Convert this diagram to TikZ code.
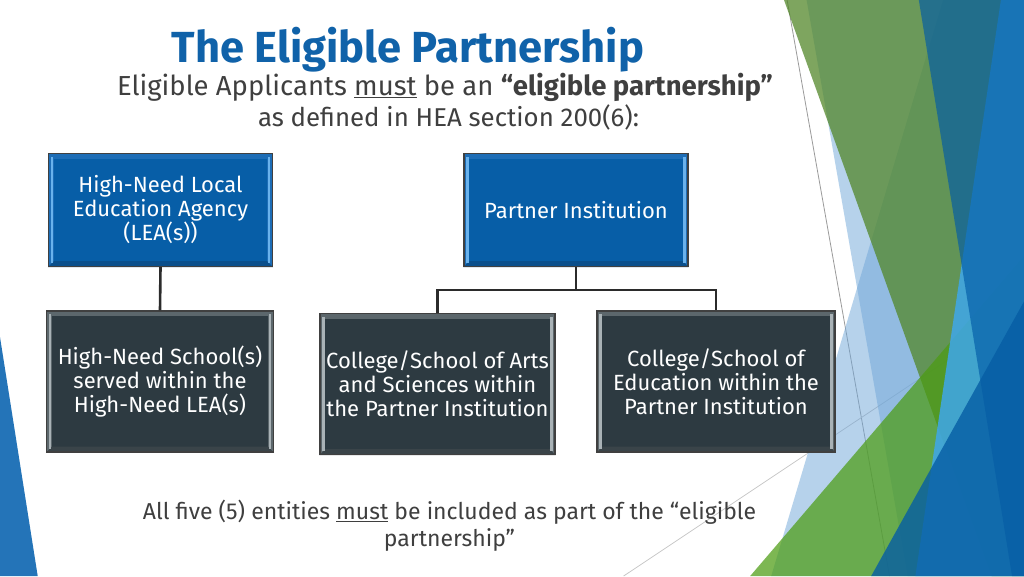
\documentclass[tikz,border=0pt]{standalone}
\usepackage{fontspec}
\setmainfont{Fira Sans}
\usetikzlibrary{calc}
\definecolor{titleblue}{HTML}{1062A9}
\definecolor{bodygray}{HTML}{3F3F3F}
\definecolor{boxedge}{HTML}{404040}
\definecolor{bluebase}{HTML}{075EA7}
\definecolor{blueframe}{HTML}{1D6DB6}
\definecolor{bluelight}{HTML}{6AB2EC}
\definecolor{bluedark}{HTML}{0A4F8C}
\definecolor{slatebase}{HTML}{2D3A41}
\definecolor{slateframe}{HTML}{5C676C}
\definecolor{slatelight}{HTML}{A9B2B6}
\definecolor{slatedark}{HTML}{3A4449}
\definecolor{connline}{HTML}{2B2B2B}
\definecolor{paleblue}{HTML}{6FA6D8}
\definecolor{leafgreen}{HTML}{53872A}
\definecolor{brightgreen}{HTML}{4C9C12}
\definecolor{skyblue}{HTML}{3FA7EB}
\definecolor{deepblue}{HTML}{015BA7}
\definecolor{oceanblue}{HTML}{065DA4}
\definecolor{sideblue}{HTML}{2474B8}
\definecolor{thinline}{HTML}{9A9A9A}
\definecolor{faintline}{HTML}{C4C4C4}
\pgfdeclarelayer{deco}
\pgfdeclarelayer{bevel}
\pgfsetlayers{deco,bevel,main}
\tikzset{
  boxbase/.style={draw=boxedge, line width=1.2pt, align=center, text=white,
    font=\fontsize{22}{24}\selectfont, inner sep=0pt},
  topbox/.style={boxbase, minimum width=224pt, minimum height=113pt},
  lowbox/.style={boxbase, minimum height=141pt},
  conn/.style={draw=connline, line width=2.6pt},
  hairline/.style={draw=thinline, line width=0.8pt},
  faintrule/.style={draw=faintline, line width=0.7pt},
}
\newcommand{\bevelbox}[5]{%
  \fill[#2] (#1.north west) rectangle (#1.south east);
  \fill[#3] ([shift={(6,6)}]#1.north west) rectangle ([shift={(-6,-6)}]#1.south east);
  \fill[#5] ([shift={(0,0)}]#1.south west) -- ([shift={(6,-6)}]#1.south west)
     -- ([shift={(-6,-6)}]#1.south east) -- (#1.south east) -- cycle;
  \fill[#4] ([shift={(3,4)}]#1.north west) rectangle ([shift={(5.5,-4)}]#1.south west);
  \fill[#4] ([shift={(-5.5,4)}]#1.north east) rectangle ([shift={(-3,-4)}]#1.south east);
}
\begin{document}
\begin{tikzpicture}[x=1pt,y=-1pt]
\useasboundingbox (0,0) rectangle (1024,576);
\begin{pgfonlayer}{deco}
\fill[white] (0,0) rectangle (1024,576);
% thin lines
\draw[hairline] (787.1,0) -- (889.5,576);
\draw[faintrule] (623.6,576) -- (1024,309.2);
% facets
\fill[paleblue, fill opacity=0.5] (943,0) -- (1024,0) -- (1024,576) -- (771.2,576) -- cycle;
\fill[paleblue, fill opacity=0.5] (806.6,0) -- (1024,0) -- (1024,576) -- (907.6,576) -- cycle;
\fill[leafgreen, fill opacity=0.75] (784,0) -- (1024,0) -- (1024,576) -- (991.5,576) -- cycle;
\fill[brightgreen, fill opacity=0.72] (1024,256) -- (1024,576) -- (750.2,576) -- cycle;
\fill[skyblue, fill opacity=0.85] (1000.9,0) -- (1024,0) -- (1024,576) -- (915.4,576) -- cycle;
\fill[deepblue, fill opacity=0.65] (918.8,0) -- (1024,0) -- (1024,576) -- (1012,576) -- cycle;
\fill[oceanblue, fill opacity=0.8] (1024,301.5) -- (1024,576) -- (871.2,576) -- cycle;
\fill[sideblue] (0,337.1) -- (0,576) -- (37.7,576) -- cycle;
\end{pgfonlayer}

% titles
\node[anchor=base, font=\fontsize{43.5}{48}\selectfont\bfseries, text=titleblue] (title) at (408,62) {The Eligible Partnership};
\node[anchor=base, font=\fontsize{27.5}{31}\selectfont, text=bodygray] (sub1) at (445,95)
  {Eligible Applicants \underline{must} be an \textbf{“eligible partnership”}};
\node[anchor=base, font=\fontsize{25.8}{31}\selectfont, text=bodygray] (sub2) at (448.5,126)
  {as defined in HEA section 200(6):};

% boxes
\node[topbox] (lea) at (160.5,210) {High-Need Local\\Education Agency\\(LEA(s))};
\node[topbox] (pi) at (576,210) {Partner Institution};
\node[lowbox, minimum width=227pt] (hns) at (160,381.5) {High-Need School(s)\\served within the\\High-Need LEA(s)};
\node[lowbox, minimum width=235pt] (cas) at (437.5,384) {College/School of Arts\\and Sciences within\\the Partner Institution};
\node[lowbox, minimum width=238pt] (coe) at (716,381.5) {College/School of\\Education within the\\Partner Institution};

\begin{pgfonlayer}{bevel}
\bevelbox{lea}{blueframe}{bluebase}{bluelight}{bluedark}
\bevelbox{pi}{blueframe}{bluebase}{bluelight}{bluedark}
\bevelbox{hns}{slateframe}{slatebase}{slatelight}{slatedark}
\bevelbox{cas}{slateframe}{slatebase}{slatelight}{slatedark}
\bevelbox{coe}{slateframe}{slatebase}{slatelight}{slatedark}
\end{pgfonlayer}

% connectors
\coordinate (junc) at ($(pi.south)+(0,23)$);
\draw[conn] (lea.south) -- (hns.north);
\draw[conn] (pi.south) -- (junc);
\draw[conn] (junc) -| (cas.north);
\draw[conn] (junc) -| (coe.north);

% footer
\node[anchor=center, align=center, font=\fontsize{23}{27}\selectfont, text=bodygray] (foot) at (449.5,526)
  {All five (5) entities \underline{must} be included as part of the “eligible\\partnership”};
\end{tikzpicture}
\end{document}
